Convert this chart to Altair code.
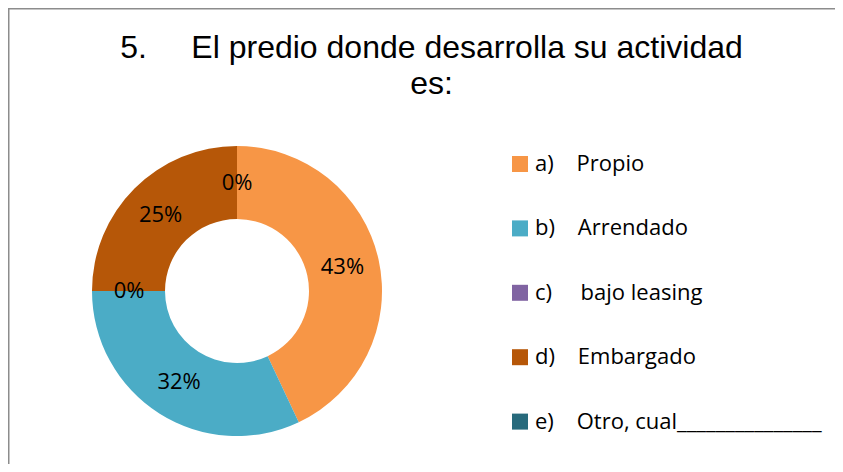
import altair as alt
import pandas as pd

NB = "\u00a0"

# Data
codes = ["a)", "b)", "c)", "d)", "e)"]
names = ["Propio", "Arrendado", "bajo leasing", "Embargado", "Otro, cual" + "_" * 15]
gaps = [4, 4, 5, 4, 4]
values = [43, 32, 0, 25, 0]
pct_labels = ["43%", "32%", "0%", "25%", "0%"]
colors = ["#F79646", "#4BACC6", "#8064A2", "#B65708", "#276A7C"]
title_lines = ["5." + NB * 5 + "El predio donde desarrolla su actividad", "es:"]

cats = [c + NB * g + n for c, n, g in zip(codes, names, gaps)]
df = pd.DataFrame({"cat": cats, "value": values, "label": pct_labels, "idx": list(range(len(cats)))})

W, H = 827, 456
CX, CY = 229, 283

base = alt.Chart(df)

arcs = base.mark_arc(outerRadius=145, innerRadius=72).encode(
    theta=alt.Theta("value:Q", stack=True),
    order=alt.Order("idx:Q"),
    color=alt.Color(
        "cat:N",
        scale=alt.Scale(domain=cats, range=colors),
        sort=cats,
        legend=alt.Legend(
            orient="none",
            legendX=501,
            legendY=145,
            title=None,
            symbolType="square",
            symbolSize=256,
            symbolStrokeWidth=0,
            labelFont="Open Sans",
            labelFontSize=22,
            labelColor="black",
            labelOffset=4,
            rowPadding=42.4,
            padding=0,
            labelLimit=400,
        ),
    ),
    x=alt.value(CX),
    y=alt.value(CY),
)

texts = base.mark_text(radius=108, font="Open Sans", fontSize=22, color="black").encode(
    theta=alt.Theta("value:Q", stack=True),
    order=alt.Order("idx:Q"),
    text="label:N",
    x=alt.value(CX),
    y=alt.value(CY),
)

one = alt.Chart(pd.DataFrame({"k": [0]}))

title = one.mark_text(
    font="Liberation Sans", fontSize=32, color="black", baseline="alphabetic",
    align="center", lineHeight=36,
).encode(text=alt.value(title_lines), x=alt.value(423.5), y=alt.value(49.5))

top_border = one.mark_rule(color="#8C8C8C", strokeWidth=1.5).encode(
    x=alt.value(0), x2=alt.value(W), y=alt.value(0.75)
)
left_border = one.mark_rule(color="#8C8C8C", strokeWidth=1.5).encode(
    x=alt.value(0.75), y=alt.value(0), y2=alt.value(H)
)

chart = alt.layer(arcs, texts, title, top_border, left_border).properties(
    width=W, height=H, padding=0, autosize=alt.AutoSizeParams(type="none"),
    background="white",
).configure_view(stroke=None)

chart.save("out.html", embed_options={"renderer": "svg", "actions": False})
